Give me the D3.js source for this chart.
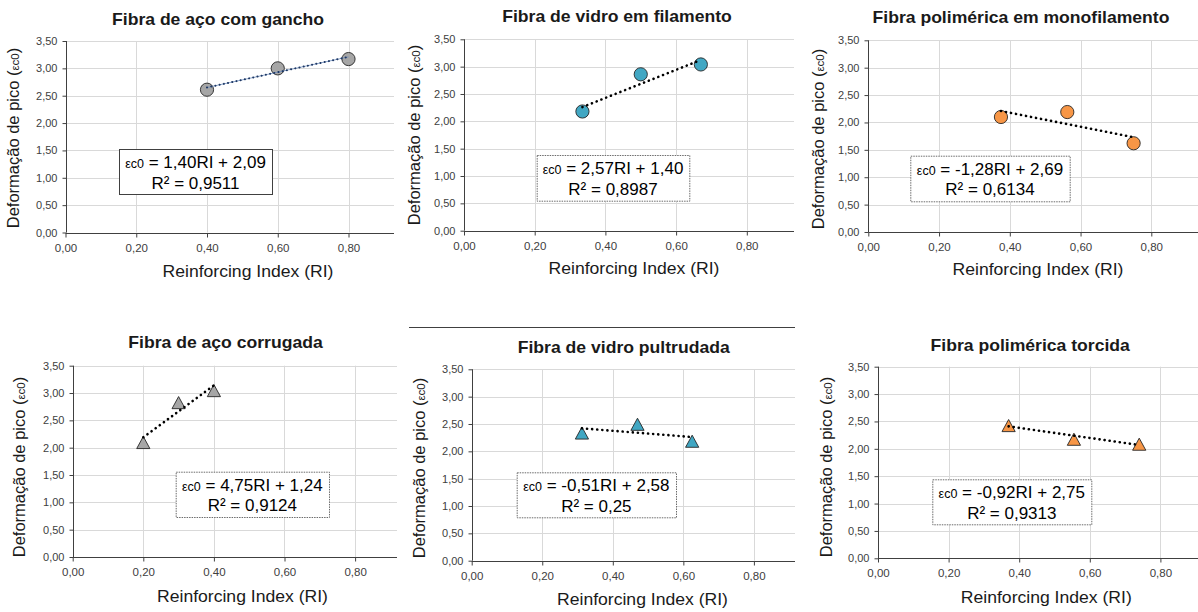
<!DOCTYPE html>
<html>
<head>
<meta charset="utf-8">
<script src="https://cdn.jsdelivr.net/npm/d3@7"></script>
<style>
  html, body { margin: 0; padding: 0; background: #ffffff; }
  svg { display: block; }
  text { font-family: Arial, "Liberation Sans", sans-serif; }
</style>
</head>
<body>
<svg id="chart" width="1198" height="612"></svg>
<script>
// ---------- DATA ----------
const categories = [
  "Fibra de aço com gancho",
  "Fibra de vidro em filamento",
  "Fibra polimérica em monofilamento",
  "Fibra de aço corrugada",
  "Fibra de vidro pultrudada",
  "Fibra polimérica torcida"
];
const riValues = [
  [0.40, 0.60, 0.80],
  [0.335, 0.50, 0.67],
  [0.375, 0.5625, 0.75],
  [0.20, 0.30, 0.40],
  [0.3125, 0.47, 0.625],
  [0.37, 0.555, 0.74]
];
const strainValues = [
  [2.61, 3.00, 3.17],
  [2.18, 2.86, 3.04],
  [2.10, 2.19, 1.62],
  [2.09, 2.82, 3.04],
  [2.33, 2.49, 2.18],
  [2.42, 2.17, 2.08]
];
const slopes = [1.40, 2.57, -1.28, 4.75, -0.51, -0.92];
const intercepts = [2.09, 1.40, 2.69, 1.24, 2.58, 2.75];
const slopeLabels = ["1,40", "2,57", "-1,28", "4,75", "-0,51", "-0,92"];
const interceptLabels = ["2,09", "1,40", "2,69", "1,24", "2,58", "2,75"];
const r2Labels = ["0,9511", "0,8987", "0,6134", "0,9124", "0,25", "0,9313"];
const xTicks = [0, 0.2, 0.4, 0.6, 0.8];
const yTicks = [0, 0.5, 1.0, 1.5, 2.0, 2.5, 3.0, 3.5];
const xTickLabels = ["0,00", "0,20", "0,40", "0,60", "0,80"];
const yTickLabels = ["0,00", "0,50", "1,00", "1,50", "2,00", "2,50", "3,00", "3,50"];
const xAxisTitle = "Reinforcing Index (RI)";
const yAxisTitle = "Deformação de pico (";

// ---------- LAYOUT / STYLE ----------
const layout = [
  {x0: 65.5, right: 394, yTop: 41,   yBot: 232.5, px02: 70.75, title: [218, 25],   yl: [18.5, 138],   xl: [248, 276.5], box: [119, 149, 153, 45], solidBox: true,
   fill: "#a6a6a6", shape: "circle", trend: "#1f3864", clip: 280},
  {x0: 464,  right: 794, yTop: 39.3, yBot: 230.7, px02: 70.7, title: [617, 21.7], yl: [419.5, 135],  xl: [634, 274.3], box: [536.7, 155, 152.6, 45.7], solidBox: false,
   fill: "#41a7c3", shape: "circle", trend: "#000"},
  {x0: 868.3,right: 1198,yTop: 40.3, yBot: 232,   px02: 70.75, title: [1021, 23.3], yl: [823.5, 139],  xl: [1038, 275.3], box: [910.3, 155.7, 159.4, 45.6], solidBox: false,
   fill: "#f79646", shape: "circle", trend: "#000"},
  {x0: 72.7, right: 397, yTop: 365.7,yBot: 557,   px02: 70.6, title: [225.5, 348.3], yl: [24.5, 467], xl: [242.5, 601.7], box: [175.7, 471.7, 153.3, 45.3], solidBox: false,
   fill: "#a6a6a6", shape: "triangle", trend: "#000"},
  {x0: 471.7,right: 795, yTop: 369.3,yBot: 560.7, px02: 70.55, title: [623.7, 353.3], yl: [424.5, 468], xl: [642.5, 605], box: [516.7, 472.3, 159.3, 45], solidBox: false,
   fill: "#41a7c3", shape: "triangle", trend: "#000"},
  {x0: 878,  right: 1198,yTop: 366.7,yBot: 558.3, px02: 70.6, title: [1030.2, 350.7], yl: [831.5, 467], xl: [1046.3, 603.3], box: [932.3, 479.3, 159, 45], solidBox: false,
   fill: "#f79646", shape: "triangle", trend: "#000"}
];
const FONT = "Arial, 'Liberation Sans', sans-serif";

const svg = d3.select("#chart");
const defs = svg.append("defs");

// separator line above the middle-bottom panel
svg.append("line").attr("x1", 409).attr("x2", 795).attr("y1", 327.5).attr("y2", 327.5)
  .attr("stroke", "#404040").attr("stroke-width", 1);

categories.forEach((cat, i) => {
  const L = layout[i];
  const g = svg.append("g");
  if (L.clip) {
    defs.append("clipPath").attr("id", "clip" + i).append("rect")
      .attr("x", 0).attr("y", 0).attr("width", 1198).attr("height", L.clip);
    g.attr("clip-path", "url(#clip" + i + ")");
  }
  const x = d3.scaleLinear().domain([0, 0.8]).range([L.x0, L.x0 + 4 * L.px02]);
  const y = d3.scaleLinear().domain([0, 3.5]).range([L.yBot, L.yTop]);

  // gridlines
  g.append("g").selectAll("line").data(yTicks.slice(1)).join("line")
    .attr("x1", L.x0).attr("x2", L.right)
    .attr("y1", d => Math.round(y(d)) + 0.5).attr("y2", d => Math.round(y(d)) + 0.5)
    .attr("stroke", "#d9d9d9").attr("stroke-width", 1);
  g.append("g").selectAll("line").data(xTicks.slice(1)).join("line")
    .attr("x1", d => Math.round(x(d)) + 0.5).attr("x2", d => Math.round(x(d)) + 0.5)
    .attr("y1", L.yTop).attr("y2", L.yBot)
    .attr("stroke", "#d9d9d9").attr("stroke-width", 1);

  // axes
  const yAxis = d3.axisLeft(y).tickValues(yTicks).tickSize(4).tickSizeOuter(0)
    .tickFormat((d, k) => yTickLabels[k]).tickPadding(5);
  const ya = g.append("g").attr("transform", `translate(${Math.round(L.x0) + 0.5},0)`).call(yAxis);
  ya.select(".domain").remove();
  ya.append("line").attr("x1", 0).attr("x2", 0).attr("y1", L.yTop).attr("y2", L.yBot).attr("stroke", "#404040");
  ya.selectAll(".tick line").attr("stroke", "#404040");
  ya.selectAll(".tick text").attr("font-size", "11px").attr("fill", "#404040").attr("font-family", FONT);

  const xAxis = d3.axisBottom(x).tickValues(xTicks).tickSize(4).tickSizeOuter(0)
    .tickFormat((d, k) => xTickLabels[k]).tickPadding(6);
  const xa = g.append("g").attr("transform", `translate(0,${Math.round(L.yBot) + 0.5})`).call(xAxis);
  xa.select(".domain").remove();
  xa.append("line").attr("x1", L.x0).attr("x2", L.right).attr("y1", 0).attr("y2", 0).attr("stroke", "#404040");
  xa.selectAll(".tick line").attr("stroke", "#404040");
  xa.selectAll(".tick text").attr("font-size", "11.5px").attr("fill", "#404040").attr("font-family", FONT);

  // title
  g.append("text").attr("transform", `translate(${L.title[0]},${L.title[1]}) scale(1.1,1)`)
    .attr("text-anchor", "middle")
    .attr("font-size", "16px").attr("font-weight", "bold").attr("fill", "#1a1a1a").text(cat);

  // y axis title
  const yt = g.append("text").attr("transform", `translate(${L.yl[0]},${L.yl[1]}) rotate(-90)`)
    .attr("text-anchor", "middle").attr("font-size", "16.5px").attr("fill", "#1a1a1a");
  yt.append("tspan").text(yAxisTitle);
  yt.append("tspan").attr("font-size", "11.5px").text("εc0");
  yt.append("tspan").text(")");

  // x axis title
  g.append("text").attr("transform", `translate(${L.xl[0]},${L.xl[1]}) scale(1.1,1)`)
    .attr("text-anchor", "middle")
    .attr("font-size", "16px").attr("fill", "#1a1a1a").text(xAxisTitle);

  // equation box
  const [bx, by, bw, bh] = L.box;
  g.append("rect").attr("x", bx + 0.5).attr("y", by + 0.5).attr("width", bw).attr("height", bh)
    .attr("fill", "#fff")
    .attr("stroke", L.solidBox ? "#404040" : "#6b6b6b")
    .attr("stroke-width", 1)
    .attr("stroke-dasharray", L.solidBox ? null : "1.5,1");
  const eq = g.append("text").attr("x", bx + bw / 2).attr("y", by + 18.8)
    .attr("text-anchor", "middle").attr("font-size", "17px").attr("fill", "#000");
  eq.append("tspan").attr("font-size", "12.5px").text("εc0");
  eq.append("tspan").text(` = ${slopeLabels[i]}RI + ${interceptLabels[i]}`);
  g.append("text").attr("x", bx + bw / 2).attr("y", by + 39.5)
    .attr("text-anchor", "middle").attr("font-size", "17px").attr("fill", "#000")
    .text(`R² = ${r2Labels[i]}`);

  // markers
  const pts = riValues[i].map((v, k) => [v, strainValues[i][k]]);
  if (L.shape === "circle") {
    g.append("g").selectAll("circle").data(pts).join("circle")
      .attr("cx", d => x(d[0])).attr("cy", d => y(d[1])).attr("r", 6.6)
      .attr("fill", L.fill).attr("stroke", "#262626").attr("stroke-width", 0.9);
  } else {
    g.append("g").selectAll("path").data(pts).join("path")
      .attr("transform", d => `translate(${x(d[0])},${y(d[1])})`)
      .attr("d", "M0,-6.3L6.6,5.8L-6.6,5.8Z")
      .attr("fill", L.fill).attr("stroke", "#262626").attr("stroke-width", 0.9);
  }

  // trend line
  const xmin = d3.min(riValues[i]), xmax = d3.max(riValues[i]);
  const line = d3.line().x(d => x(d)).y(d => y(slopes[i] * d + intercepts[i]));
  if (i === 0) {
    g.append("path").attr("d", line([xmin, xmax])).attr("fill", "none")
      .attr("stroke", "#6f8fc0").attr("stroke-width", 0.8);
    g.append("path").attr("d", line([xmin, xmax])).attr("fill", "none")
      .attr("stroke", L.trend).attr("stroke-width", 2)
      .attr("stroke-linecap", "round").attr("stroke-dasharray", "0.1,4.2");
  } else {
    g.append("path").attr("d", line([xmin, xmax])).attr("fill", "none")
      .attr("stroke", L.trend).attr("stroke-width", 2.6)
      .attr("stroke-linecap", "round").attr("stroke-dasharray", "0.1,5");
  }
});
</script>
</body>
</html>
